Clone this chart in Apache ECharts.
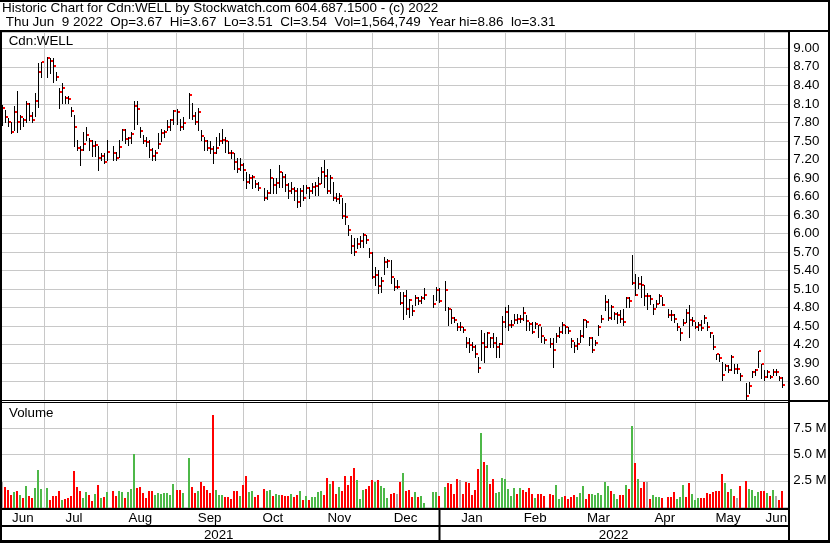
<!DOCTYPE html>
<html><head><meta charset="utf-8">
<script src="https://cdn.jsdelivr.net/npm/echarts@6/dist/echarts.min.js"></script>
<style>html,body{margin:0;padding:0;background:#fff;overflow:hidden}#c{width:830px;height:543px}</style>
</head><body><div id="c"></div>
<script>
// ---------- DATA ----------
const startDate = '2021-06-11';
const endDate = '2022-06-09';
const holidays = ['2021-07-01','2021-08-02','2021-09-06','2021-10-11','2021-12-27','2021-12-28','2022-01-03','2022-02-21','2022-04-15','2022-05-23'];
const monthLabels = ['Jun','Jul','Aug','Sep','Oct','Nov','Dec','Jan','Feb','Mar','Apr','May','Jun'];
const yearLabels = ['2021','2022'];
const priceTicks = {min: 3.3, max: 9.264, step: 0.3};
const volTicks = {min: 0, max: 10, step: 2.5};

const closes = [
8.03,7.88,7.80,7.65,7.96,7.80,7.89,7.84,8.09,7.90,
7.84,8.15,8.62,8.77,8.84,8.80,8.72,8.54,8.29,8.36,
8.20,8.18,7.99,7.73,7.38,7.35,7.45,7.60,7.49,7.42,
7.44,7.23,7.26,7.16,7.32,7.30,7.23,7.40,7.67,7.53,
7.55,7.61,8.06,8.02,7.66,7.49,7.48,7.35,7.26,7.30,
7.45,7.63,7.65,7.73,7.83,7.98,7.96,7.73,7.79,8.24,
7.90,7.81,7.97,7.58,7.50,7.39,7.36,7.31,7.39,7.49,
7.51,7.50,7.31,7.30,7.15,7.04,7.11,7.03,6.83,6.90,
6.91,6.80,6.74,6.58,6.66,6.90,6.78,6.82,6.99,6.92,
6.78,6.69,6.72,6.68,6.51,6.69,6.58,6.73,6.68,6.76,
6.77,6.80,7.00,6.93,6.69,6.90,6.57,6.55,6.60,6.29,
6.27,6.05,5.79,5.70,5.83,5.88,5.97,5.89,5.69,5.30,
5.32,5.15,5.23,5.54,5.56,5.30,5.13,5.13,4.88,4.98,
4.78,4.92,4.75,4.96,4.91,4.96,5.00,4.85,5.08,4.91,
5.09,4.77,4.63,4.59,4.48,4.48,4.43,4.23,4.19,4.16,
4.04,3.82,4.22,4.16,4.39,4.31,4.22,4.16,4.21,4.57,
4.73,4.51,4.52,4.60,4.62,4.62,4.71,4.58,4.53,4.41,
4.53,4.51,4.34,4.27,4.21,4.11,4.34,4.40,4.52,4.49,
4.42,4.26,4.18,4.21,4.34,4.59,4.56,4.31,4.11,4.22,
4.48,4.62,4.89,4.63,4.81,4.69,4.68,4.62,4.57,4.96,
4.91,5.20,5.00,5.18,5.16,4.98,4.98,4.94,4.78,4.85,
4.99,4.84,4.68,4.68,4.62,4.48,4.39,4.55,4.71,4.60,
4.58,4.49,4.51,4.47,4.63,4.49,4.39,4.16,4.04,3.98,
3.71,3.85,3.78,4.00,3.80,3.80,3.69,3.37,3.53,3.75,
3.79,4.09,3.88,3.67,3.76,3.67,3.76,3.76,3.66,3.54];

const highs = [
8.08,8.00,7.87,7.81,8.06,8.31,7.92,7.87,8.14,8.11,
7.97,8.27,8.76,8.78,8.86,8.85,8.84,8.62,8.35,8.43,
8.22,8.22,8.05,7.92,7.51,7.41,7.65,7.73,7.54,7.51,
7.49,7.41,7.30,7.30,7.51,7.41,7.32,7.51,7.70,7.70,
7.57,7.65,8.15,8.14,7.73,7.59,7.57,7.51,7.38,7.35,
7.62,7.70,7.68,7.84,7.86,8.00,8.02,7.86,7.89,8.27,
8.11,7.97,8.03,7.68,7.57,7.51,7.49,7.41,7.57,7.62,
7.70,7.57,7.49,7.35,7.30,7.22,7.22,7.14,7.00,6.97,
6.95,6.86,6.84,6.73,6.70,7.05,6.89,6.89,7.11,7.00,
6.97,6.81,6.84,6.76,6.73,6.73,6.78,6.78,6.76,6.81,
6.84,6.92,7.08,7.19,7.05,6.95,6.84,6.65,6.65,6.57,
6.49,6.13,5.97,5.92,5.92,5.95,6.00,5.97,5.76,5.70,
5.46,5.40,5.30,5.62,5.59,5.57,5.27,5.24,5.05,5.05,
5.08,4.94,4.84,5.00,4.97,4.98,5.12,5.00,5.13,5.11,
5.23,4.81,4.78,4.65,4.54,4.57,4.49,4.32,4.30,4.24,
4.19,4.00,4.43,4.38,4.41,4.32,4.38,4.32,4.22,4.66,
4.81,4.84,4.59,4.70,4.70,4.68,4.81,4.68,4.57,4.57,
4.57,4.51,4.49,4.32,4.30,4.30,4.38,4.49,4.57,4.51,
4.49,4.30,4.24,4.30,4.43,4.62,4.59,4.32,4.32,4.27,
4.51,4.68,5.00,4.94,4.84,4.73,4.73,4.76,4.78,4.97,
4.97,5.65,5.35,5.30,5.31,5.17,5.03,5.00,4.86,4.92,
5.01,4.97,4.78,4.76,4.70,4.54,4.46,4.62,4.78,4.84,
4.65,4.57,4.57,4.59,4.68,4.57,4.41,4.35,4.05,4.05,
3.92,3.89,3.86,4.03,3.89,3.89,3.73,3.58,3.59,3.77,
3.81,4.09,3.89,3.78,3.78,3.70,3.81,3.81,3.69,3.67];

const lows = [
7.76,7.81,7.74,7.63,7.68,7.65,7.70,7.74,7.81,7.84,
7.81,7.90,8.05,8.54,8.54,8.60,8.46,8.48,8.03,8.11,
8.11,8.11,7.90,7.41,7.35,7.11,7.35,7.51,7.35,7.25,
7.25,7.03,7.19,7.14,7.19,7.19,7.19,7.24,7.51,7.46,
7.43,7.46,7.70,7.78,7.57,7.46,7.41,7.24,7.19,7.19,
7.38,7.49,7.57,7.68,7.68,7.78,7.78,7.68,7.70,7.87,
7.86,7.78,7.68,7.51,7.35,7.35,7.30,7.14,7.30,7.43,
7.46,7.32,7.30,7.22,7.05,7.00,7.03,6.87,6.73,6.81,
6.73,6.76,6.70,6.54,6.55,6.65,6.65,6.65,6.76,6.76,
6.68,6.57,6.65,6.54,6.42,6.45,6.54,6.65,6.57,6.65,
6.62,6.62,6.81,6.76,6.65,6.65,6.54,6.52,6.50,6.25,
6.16,5.97,5.68,5.65,5.76,5.78,5.78,5.84,5.62,5.27,
5.16,5.03,5.05,5.35,5.46,5.19,5.08,5.11,4.86,4.62,
4.70,4.65,4.68,4.84,4.86,4.88,4.94,4.80,4.92,4.89,
4.76,4.51,4.54,4.57,4.43,4.43,4.40,4.16,4.08,4.11,
4.00,3.76,3.95,3.92,4.16,4.16,4.16,4.00,4.00,4.21,
4.49,4.43,4.49,4.54,4.54,4.57,4.59,4.43,4.43,4.38,
4.46,4.32,4.24,4.22,4.16,3.84,4.24,4.32,4.38,4.38,
4.38,4.16,4.08,4.12,4.24,4.32,4.49,4.19,4.08,4.19,
4.35,4.57,4.76,4.59,4.62,4.62,4.54,4.57,4.51,4.81,
4.81,5.18,5.00,5.11,4.97,4.84,4.78,4.86,4.70,4.81,
4.87,4.84,4.65,4.59,4.57,4.43,4.27,4.51,4.57,4.32,
4.51,4.46,4.43,4.43,4.54,4.43,4.32,4.12,3.97,3.94,
3.63,3.78,3.76,3.78,3.73,3.73,3.62,3.31,3.41,3.67,
3.70,3.83,3.65,3.62,3.67,3.65,3.70,3.70,3.63,3.51];

// volume in millions of shares
const volumes = [
2.37,1.92,1.63,1.15,1.44,1.54,1.15,0.87,2.02,1.06,
0.87,1.83,3.56,1.73,1.83,0.67,1.06,1.06,1.54,0.67,
0.77,0.87,1.06,3.46,1.92,1.54,0.87,1.44,1.15,0.58,
1.25,2.12,0.87,0.96,1.44,1.54,1.06,1.54,1.44,0.87,
1.44,1.73,5.06,1.83,1.92,1.35,0.87,1.54,1.54,1.15,
1.35,1.28,1.35,1.35,1.15,2.21,1.63,1.63,1.35,4.62,
1.92,1.35,1.54,2.40,2.02,1.60,1.35,8.75,1.63,1.15,
1.15,0.96,0.96,0.77,1.54,1.54,1.06,2.12,2.98,1.44,
1.54,0.96,1.15,1.73,1.54,1.63,1.06,1.25,1.15,1.15,
1.06,1.06,1.25,0.96,1.15,1.54,0.67,1.06,0.67,0.96,
0.96,1.44,1.54,1.15,2.79,2.21,2.50,1.25,1.92,1.54,
2.98,2.12,2.98,3.70,2.60,0.77,1.63,1.73,2.02,2.60,
2.40,2.60,2.02,1.83,0.87,1.25,1.35,1.25,2.40,3.27,
1.54,1.63,0.96,1.44,0.96,1.06,0.38,1.44,1.44,1.06,
1.92,2.31,2.21,1.25,2.69,2.53,1.25,2.40,2.31,1.15,
1.63,3.65,7.02,4.33,4.04,2.21,2.69,1.35,1.44,2.79,
2.69,1.73,1.06,1.83,1.25,1.83,1.63,1.44,1.83,1.25,
0.87,1.25,1.25,1.06,1.25,1.15,2.12,0.77,0.96,1.06,
0.77,0.96,1.15,0.96,1.35,2.02,0.77,1.25,1.25,1.15,
1.35,1.15,2.40,2.02,1.54,1.25,0.77,1.15,1.15,2.12,
1.73,7.76,4.23,2.69,1.83,2.37,2.37,0.77,1.15,0.96,
0.96,0.87,0.96,0.96,1.44,0.77,0.96,2.12,0.96,2.31,
1.25,0.67,0.87,0.90,0.90,1.30,1.20,1.46,1.56,1.56,
3.14,2.32,1.46,1.68,1.05,0.89,2.00,2.50,1.71,1.62,
1.05,1.46,1.56,1.56,1.30,1.05,1.62,1.05,0.67,1.56];

// volume bar colour per trading day: u = up (green), d = down (red), n = unchanged (grey)
const volumeDirs = [
'n','d','d','d','u','d','u','d','u','d',
'd','u','u','u','u','d','d','d','d','u',
'd','d','d','d','d','d','u','u','d','d',
'u','d','u','d','u','d','d','u','u','d',
'u','u','u','d','d','d','d','d','d','u',
'u','u','u','u','u','u','d','d','u','u',
'd','d','u','d','d','d','d','d','u','u',
'u','d','d','d','d','d','u','d','d','u',
'u','d','d','d','u','u','d','u','u','d',
'd','d','u','d','d','u','d','u','d','u',
'u','u','u','d','d','u','d','d','u','d',
'd','d','d','d','u','u','u','d','d','d',
'u','d','u','u','u','d','d','n','d','u',
'd','d','d','u','d','u','u','u','u','d',
'u','d','d','d','d','n','d','d','d','d',
'd','d','u','d','u','d','d','u','u','u',
'u','u','u','u','d','u','d','d','d','d',
'u','d','d','d','d','d','u','u','u','d',
'd','d','d','u','u','u','d','d','u','u',
'u','u','u','u','d','u','u','d','d','u',
'd','u','d','u','d','d','n','d','u','u',
'u','d','d','d','d','u','u','u','d','d',
'u','u','u','d','d','d','d','d','d','d',
'd','u','d','u','d','n','d','d','u','u',
'u','u','d','d','u','d','u','n','d','d'];
</script>
<script>
// ---------- BUILD ----------
const FONT = '"Liberation Sans", Arial, sans-serif';
const FS = 13.33;
const DAY = 86400000;
const slots = [];
for (let t = Date.parse(startDate + 'T00:00:00Z'); t <= Date.parse(endDate + 'T00:00:00Z'); t += DAY) {
  const wd = new Date(t).getUTCDay();
  if (wd !== 0 && wd !== 6) slots.push(new Date(t).toISOString().slice(0, 10));
}
const categories = slots.concat(['pad1', 'pad2']);
const tradingIdx = [];
slots.forEach((s, i) => { if (holidays.indexOf(s) < 0) tradingIdx.push(i); });

const ohlcData = tradingIdx.map((slot, k) => [slot, highs[k], lows[k], closes[k]]);
const dirNum = {u: 1, d: -1, n: 0};
const volData = tradingIdx.map((slot, k) => [slot, volumes[k], dirNum[volumeDirs[k]]]);

// month gridlines: slot of the last weekday on/before the 1st of each month
const gridIdx = [];
for (let m = 0; m < 12; m++) {
  const y = 2021 + Math.floor((6 + m) / 12), mo = (6 + m) % 12;
  const first = Date.UTC(y, mo, 1);
  let best = 0;
  slots.forEach((s, i) => { if (Date.parse(s + 'T00:00:00Z') <= first) best = i; });
  gridIdx.push(best);
}
const gridSet = new Set(gridIdx);
const bounds = [0].concat(gridIdx, [categories.length - 1]);
const monthLabelAt = {};
for (let k = 0; k < monthLabels.length; k++) monthLabelAt[Math.floor((bounds[k] + bounds[k + 1]) / 2)] = monthLabels[k];
const yearSplit = gridIdx[6];
const yearLabelAt = {};
yearLabelAt[Math.floor(yearSplit / 2)] = yearLabels[0];
yearLabelAt[Math.floor((yearSplit + categories.length - 1) / 2)] = yearLabels[1];

const GRID_LEFT = 1.7, GRID_RIGHT = 830 - (1.7 + 261 * 3.014);
const gridLine = {color: '#c8c8c8', width: 1};
const lbl = {fontFamily: FONT, fontSize: FS, color: '#000'};

const chart = echarts.init(document.getElementById('c'), null, {renderer: 'canvas'});
const frame = [
  [0, 0, 830, 2], [0, 30, 830, 2], [0, 30, 2, 513], [828, 0, 2, 543], [788, 30, 2, 513],
  [0, 400, 788, 1], [0, 402, 788, 1], [788, 400, 42, 2],
  [0, 508, 788, 2], [0, 525, 788, 2], [0, 540, 830, 3], [438.5, 508, 2, 33]
].map(r => ({type: 'rect', silent: true, z: 100, shape: {x: r[0], y: r[1], width: r[2], height: r[3]}, style: {fill: '#000'}}));
const txt = (s, x, y, fs) => ({type: 'text', silent: true, z: 100, x: x, y: y,
  style: {text: s, font: (fs || FS) + 'px ' + FONT, fill: '#000', align: 'left', verticalAlign: 'middle', textAlign: 'left', textVerticalAlign: 'middle'}});

chart.setOption({
  animation: false,
  backgroundColor: '#fff',
  grid: [
    {left: GRID_LEFT, right: GRID_RIGHT, top: 32, height: 368},
    {left: GRID_LEFT, right: GRID_RIGHT, top: 402, height: 105}
  ],
  xAxis: [
    {type: 'category', gridIndex: 0, data: categories, boundaryGap: false,
      axisLine: {show: false}, axisTick: {show: false}, axisLabel: {show: false},
      splitLine: {show: true, interval: (i) => gridSet.has(i), lineStyle: gridLine}},
    {type: 'category', gridIndex: 1, data: categories, boundaryGap: false,
      axisLine: {show: false}, axisTick: {show: false},
      axisLabel: Object.assign({show: true, margin: 5, interval: (i) => monthLabelAt[i] !== undefined,
        formatter: (v) => monthLabelAt[categories.indexOf(v)] || ''}, lbl),
      splitLine: {show: true, interval: (i) => gridSet.has(i), lineStyle: gridLine}},
    {type: 'category', gridIndex: 1, data: categories, boundaryGap: false, position: 'bottom', offset: 17,
      axisLine: {show: false}, axisTick: {show: false}, splitLine: {show: false},
      axisLabel: Object.assign({show: true, margin: 5, interval: (i) => yearLabelAt[i] !== undefined,
        formatter: (v) => yearLabelAt[categories.indexOf(v)] || ''}, lbl)}
  ],
  yAxis: [
    {type: 'value', gridIndex: 0, position: 'right', min: priceTicks.min, max: priceTicks.max, interval: priceTicks.step,
      axisLine: {show: false}, axisTick: {show: false}, splitLine: {show: true, lineStyle: gridLine},
      axisLabel: Object.assign({margin: 5, showMinLabel: false, showMaxLabel: false, formatter: (v) => v.toFixed(2)}, lbl)},
    {type: 'value', gridIndex: 1, position: 'right', min: volTicks.min, max: volTicks.max, interval: volTicks.step,
      axisLine: {show: false}, axisTick: {show: false}, splitLine: {show: true, lineStyle: gridLine},
      axisLabel: Object.assign({margin: 5, showMinLabel: false, showMaxLabel: false, formatter: (v) => v.toFixed(1) + ' M'}, lbl)}
  ],
  series: [
    {type: 'custom', xAxisIndex: 0, yAxisIndex: 0, data: ohlcData, encode: {x: 0, y: [1, 2, 3]}, z: 5,
      renderItem: function (params, api) {
        const i = api.value(0);
        const h = api.coord([i, api.value(1)]);
        const l = api.coord([i, api.value(2)]);
        const c = api.coord([i, api.value(3)]);
        const x = Math.round(h[0]);
        const yh = Math.round(h[1]), yl = Math.round(l[1]), yc = Math.round(c[1]);
        return {type: 'group', children: [
          {type: 'rect', shape: {x: x, y: yh, width: 1, height: Math.max(1, yl - yh + 1)}, style: {fill: '#000'}},
          {type: 'rect', shape: {x: x + 1, y: yc - 1, width: 2, height: 2}, style: {fill: '#ff0000'}}
        ]};
      }},
    {type: 'custom', xAxisIndex: 1, yAxisIndex: 1, data: volData, encode: {x: 0, y: 1}, z: 5,
      renderItem: function (params, api) {
        const i = api.value(0);
        const p = api.coord([i, api.value(1)]);
        const b = api.coord([i, 0]);
        const d = api.value(2);
        const col = d > 0 ? '#4db848' : (d < 0 ? '#ff0000' : '#aaaaaa');
        const x = Math.round(p[0]) - 1, top = Math.round(p[1]);
        return {type: 'rect', shape: {x: x, y: top, width: 2, height: Math.round(b[1]) + 1 - top}, style: {fill: col}};
      }}
  ],
  graphic: frame.concat([
    txt('Historic Chart for Cdn:WELL by Stockwatch.com 604.687.1500 - (c) 2022', 2, 8.7, 13.45),
    txt(' Thu Jun  9 2022  Op=3.67  Hi=3.67  Lo=3.51  Cl=3.54  Vol=1,564,749  Year hi=8.86  lo=3.31', 2, 22, 13.45),
    txt('Cdn:WELL', 8.7, 41.7),
    txt('Volume', 9, 413)
  ])
});
</script></body></html>
